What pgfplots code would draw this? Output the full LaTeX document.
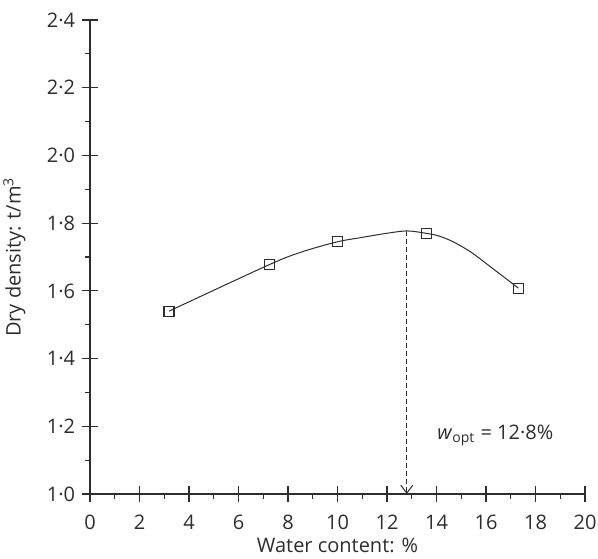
\documentclass[border=0pt]{standalone}
\usepackage{fontspec}
\setmainfont{Open Sans}
\usepackage{pgfplots}
\pgfplotsset{compat=1.18}
\usetikzlibrary{arrows.meta}
\definecolor{ink}{RGB}{45,45,45}
\begin{document}
\begin{tikzpicture}
\useasboundingbox (-45pt,-32pt) rectangle (254pt,247pt);
\begin{axis}[
  scale only axis, width=247.5pt, height=237pt,
  xmin=0, xmax=20, ymin=1.0, ymax=2.4,
  axis lines=left,
  axis line style={-, ink, line width=0.6pt},
  font=\fontsize{10}{12}\selectfont,
  xtick={0,2,4,6,8,10,12,14,16,18,20},
  xticklabels={0,2,4,6,8,10,12,14,16,18,20},
  ytick={1,1.2,1.4,1.6,1.8,2,2.2,2.4},
  yticklabels={1·0,1·2,1·4,1·6,1·8,2·0,2·2,2·4},
  minor x tick num=1, minor y tick num=1,
  tick align=outside, major tick length=3.9pt, minor tick length=2.5pt,
  tick style={ink, line width=0.6pt},
  extra x ticks={0,2,4,6,8,10,12,14,16,18,20}, extra x tick labels={},
  extra y ticks={1,1.2,1.4,1.6,1.8,2,2.2,2.4}, extra y tick labels={},
  extra tick style={tick align=inside, major tick length=3.9pt},
  tick label style={text=ink},
  xticklabel style={yshift=-3pt},
  xlabel={Water content: \%},
  xlabel style={yshift=6.5pt},
  ylabel={Dry density: t/m\textsuperscript{3}},
  label style={text=ink},
  clip=false,
]
\addplot[ink, line width=0.5pt, smooth, tension=0.5] coordinates {
 (3.19,1.540) (7.26,1.678) (8.6,1.716) (10.0,1.745) (11.0,1.758) (11.9,1.769)
 (12.8,1.777) (13.58,1.770) (14.1,1.762) (14.7,1.744) (15.4,1.714) (16.2,1.670) (17.31,1.608)};
\addplot[ink, only marks, mark=square, mark size=2.5pt, mark options={line width=0.6pt, solid}] coordinates {
 (3.19,1.540) (7.26,1.678) (10.0,1.745) (13.58,1.770) (17.31,1.608)};
\addplot[ink, line width=0.5pt, dash pattern=on 2.5pt off 1.5pt, -{Straight Barb[length=4pt,width=6pt]}] coordinates {(12.8,1.777) (12.8,1.0)};
\node[text=ink, anchor=base west] at (axis cs:13.75,1.162) {\textit{w}\textsubscript{opt} = 12·8\%};
\end{axis}
\end{tikzpicture}
\end{document}
